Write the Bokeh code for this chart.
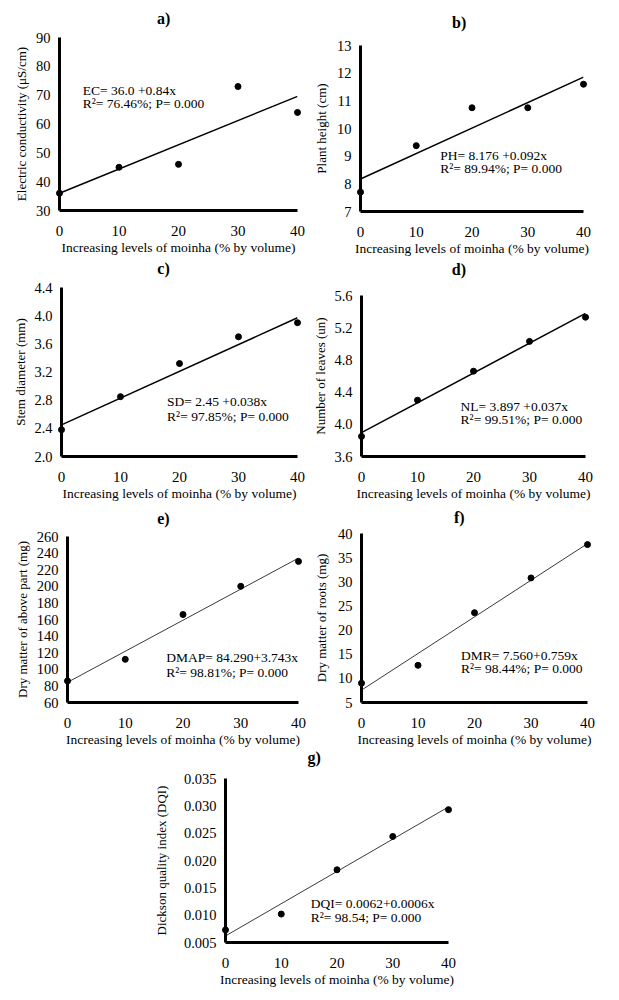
from bokeh.plotting import figure
from bokeh.layouts import column, row
from bokeh.models import FixedTicker, Spacer
from bokeh.core.properties import value
from bokeh.embed import file_html
from bokeh.resources import INLINE

FONT = "Liberation Serif"

# data
levels = [0, 10, 20, 30, 40]

ec = [36.0, 45.0, 46.0, 73.0, 64.0]
ec_fit = [36.0, 69.6]
ph = [7.7, 9.38, 10.75, 10.75, 11.6]
ph_fit = [8.176, 11.856]
sd = [2.38, 2.85, 3.32, 3.70, 3.90]
sd_fit = [2.45, 3.97]
nl = [3.85, 4.30, 4.66, 5.03, 5.33]
nl_fit = [3.897, 5.377]
dmap = [86.0, 112.0, 166.0, 200.0, 230.0]
dmap_fit = [84.29, 234.0]
dmr = [9.0, 12.7, 23.6, 30.8, 37.7]
dmr_fit = [7.56, 37.9]
dqi = [0.0073, 0.0102, 0.0183, 0.0244, 0.0293]
dqi_fit = [0.0062, 0.0298]

fit_x = [0, 40]

ec_ticks = ["30", "40", "50", "60", "70", "80", "90"]
ph_ticks = ["7", "8", "9", "10", "11", "12", "13"]
sd_ticks = ["2.0", "2.4", "2.8", "3.2", "3.6", "4.0", "4.4"]
nl_ticks = ["3.6", "4.0", "4.4", "4.8", "5.2", "5.6"]
dmap_ticks = ["60", "80", "100", "120", "140", "160", "180", "200", "220", "240", "260"]
dmr_ticks = ["5", "10", "15", "20", "25", "30", "35", "40"]
dqi_ticks = ["0.005", "0.010", "0.015", "0.020", "0.025", "0.030", "0.035"]

x_title = "Increasing levels of moinha (% by volume)"


def panel(letter, ylabel, ys, fit, ticks, eq, eq_pos, title_pos, w, h,
          borders, lab_gap, thin=False):
    tick_vals = [float(t) for t in ticks]
    p = figure(width=w, height=h, x_range=(0, 40),
               y_range=(tick_vals[0], tick_vals[-1]),
               output_backend="svg", toolbar_location=None,
               title_location=None,
               min_border_left=borders[0], min_border_right=borders[1],
               min_border_top=borders[2], min_border_bottom=borders[3])
    p.frame_align = False
    p.xgrid.visible = False
    p.ygrid.visible = False
    p.outline_line_color = None

    p.xaxis.ticker = FixedTicker(ticks=levels)
    p.yaxis.ticker = FixedTicker(ticks=tick_vals)
    p.yaxis.major_label_overrides = {v: t for v, t in zip(tick_vals, ticks)}
    p.xaxis.axis_label = x_title
    p.yaxis.axis_label = ylabel
    for ax in (p.xaxis, p.yaxis):
        ax.level = "overlay"
        ax.axis_line_width = 3
        ax.axis_line_color = "black"
        ax.major_tick_line_color = None
        ax.minor_tick_line_color = None
        ax.major_tick_out = 0
        ax.major_tick_in = 0
        ax.major_label_text_font = FONT
        ax.major_label_text_color = "black"
        ax.axis_label_text_font = FONT
        ax.axis_label_text_font_style = "normal"
        ax.axis_label_text_color = "black"
    p.xaxis.major_label_text_font_size = "15px"
    p.yaxis.major_label_text_font_size = "14.5px"
    p.xaxis.axis_label_text_font_size = "13.5px"
    p.yaxis.axis_label_text_font_size = "13px"
    p.xaxis.major_label_standoff = 15
    p.xaxis.axis_label_standoff = 1
    p.yaxis.major_label_standoff = 9
    p.yaxis.axis_label_standoff = lab_gap

    if thin:
        p.line(fit_x, fit, line_color="#3a3a3a", line_width=1)
    else:
        p.line(fit_x, fit, line_color="black", line_width=1.5)
    p.scatter(levels, ys, size=6, color="black", level="annotation")
    p.text([eq_pos[0], eq_pos[0]], [eq_pos[1], eq_pos[2]], text=eq,
           text_font=value(FONT), text_font_size="13.5px",
           text_baseline="middle", text_color="black")
    # panel letter above the frame
    p.text([title_pos[0]], [title_pos[1]], text=[letter],
           text_font=value(FONT), text_font_size="16px",
           text_font_style="bold", text_align="center",
           text_baseline="middle", text_color="black", level="overlay")
    return p


pa = panel("a)", "Electric conductivity (μS/cm)", ec, ec_fit, ec_ticks,
           ["EC= 36.0 +0.84x", "R²= 76.46%; P= 0.000"], (3.9, 71.6, 67.1),
           (17.5, 96.6), 310, 258, (59, 13, 37, 48), 4)
pb = panel("b)", "Plant height (cm)", ph, ph_fit, ph_ticks,
           ["PH= 8.176 +0.092x", "R²= 89.94%; P= 0.000"], (14.3, 9.02, 8.54),
           (17.7, 13.83), 305, 258, (43, 32, 45, 47), 5)
pc = panel("c)", "Stem diameter (mm)", sd, sd_fit, sd_ticks,
           ["SD= 2.45 +0.038x", "R²= 97.85%; P= 0.000"], (17.9, 2.78, 2.57),
           (17.3, 4.668), 310, 245, (61, 13, 29, 46), 3)
pd_ = panel("d)", "Number of leaves (un)", nl, nl_fit, nl_ticks,
            ["NL= 3.897 +0.037x", "R²= 99.51%; P= 0.000"], (17.7, 4.22, 4.055),
            (17.4, 5.929), 305, 245, (45, 30, 37, 44), 3)
pe = panel("e)", "Dry matter of above part (mg)", dmap, dmap_fit, dmap_ticks,
           ["DMAP= 84.290+3.743x", "R²= 98.81%; P= 0.000"], (17.1, 114.6, 96.5),
           (16.6, 281.7), 310, 247, (67, 12, 33, 48), 4, thin=True)
pf = panel("f)", "Dry matter of roots (mg)", dmr, dmr_fit, dmr_ticks,
           ["DMR= 7.560+0.759x", "R²= 98.44%; P= 0.000"], (17.6, 14.7, 12.0),
           (17.3, 43.3), 305, 247, (44, 28, 30, 48), 6, thin=True)
pg = panel("g)", "Dickson quality index (DQI)", dqi, dqi_fit, dqi_ticks,
           ["DQI= 0.0062+0.0006x", "R²= 98.54; P= 0.000"], (15.3, 0.0121, 0.0096),
           (15.9, 0.03884), 320, 240, (69, 22, 28, 48), 12, thin=True)

layout = column(
    row(pa, pb),
    row(pc, pd_),
    row(pe, pf),
    row(Spacer(width=150, height=240), pg),
)

open("out.html", "w").write(file_html(layout, INLINE))
